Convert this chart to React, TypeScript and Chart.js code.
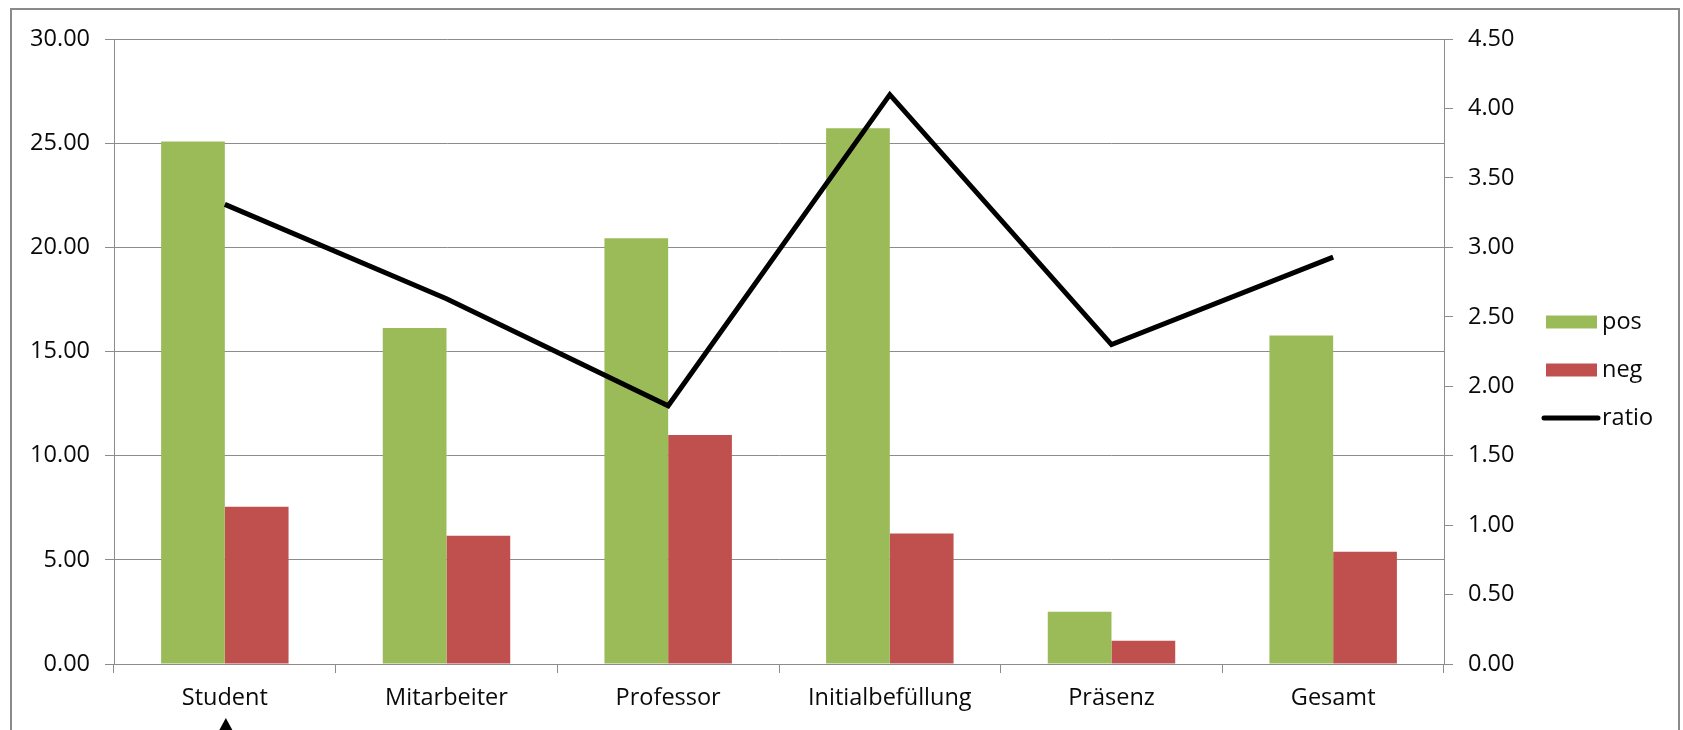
import React, { useEffect, useRef } from "react";
import { Chart, registerables } from "chart.js";

Chart.register(...registerables);

const categories = ["Student", "Mitarbeiter", "Professor", "Initialbefüllung", "Präsenz", "Gesamt"];
const posValues = [25.08, 16.13, 20.44, 25.72, 2.51, 15.77];
const negValues = [7.55, 6.16, 10.99, 6.27, 1.12, 5.39];
const ratioValues = [3.31, 2.63, 1.86, 4.1, 2.3, 2.93];
const seriesLabels = ["pos", "neg", "ratio"];
const leftAxis = { min: 0, max: 30, step: 5 };
const rightAxis = { min: 0, max: 4.5, step: 0.5 };

const GREEN = "#9BBB59";
const RED = "#C0504D";
const LINE = "#000000";
const GRID = "#8c8c8c";
const TEXT = "#0a0a0a";
const FONT_FAMILY = "'Open Sans', 'DejaVu Sans', sans-serif";
const FONT_SIZE = 23.5;

export default function App() {
  const ref = useRef<HTMLCanvasElement>(null);

  useEffect(() => {
    const canvas = ref.current!;
    const font = { family: FONT_FAMILY, size: FONT_SIZE };

    const legendPlugin = {
      id: "customLegend",
      afterDraw(chart: any) {
        const ctx = chart.ctx;
        const area = chart.chartArea;
        const x0 = area.right + 102;
        const cy = chart.height / 2;
        const gap = 48;
        const colors = [GREEN, RED, LINE];
        ctx.save();
        ctx.font = `${FONT_SIZE}px ${FONT_FAMILY}`;
        ctx.textBaseline = "middle";
        ctx.textAlign = "left";
        seriesLabels.forEach((label, i) => {
          const y = cy + (i - 1) * gap;
          if (i < 2) {
            ctx.fillStyle = colors[i];
            ctx.fillRect(x0, y - 6.5, 51, 13);
          } else {
            ctx.strokeStyle = LINE;
            ctx.lineWidth = 5;
            ctx.lineCap = "round";
            ctx.beginPath();
            ctx.moveTo(x0 - 2, y);
            ctx.lineTo(x0 + 52, y);
            ctx.stroke();
          }
          ctx.fillStyle = TEXT;
          ctx.fillText(label, x0 + 56, y);
        });
        ctx.restore();
      },
    };

    const arrowPlugin = {
      id: "arrowMark",
      afterDraw(chart: any) {
        const ctx = chart.ctx;
        const xs = chart.scales.x;
        const cx = xs.getPixelForValue(0) + 1;
        const top = chart.chartArea.bottom + 54;
        ctx.save();
        ctx.fillStyle = "#000";
        ctx.beginPath();
        ctx.moveTo(cx, top);
        ctx.lineTo(cx - 6.5, top + 12);
        ctx.lineTo(cx + 6.5, top + 12);
        ctx.closePath();
        ctx.fill();
        ctx.restore();
      },
    };

    const chart = new Chart(canvas, {
      type: "bar",
      data: {
        labels: categories,
        datasets: [
          {
            type: "line",
            label: seriesLabels[2],
            data: ratioValues,
            yAxisID: "y1",
            borderColor: LINE,
            borderWidth: 5,
            pointRadius: 0,
            tension: 0,
            fill: false,
            order: 0,
          } as any,
          {
            label: seriesLabels[0],
            data: posValues,
            backgroundColor: GREEN,
            yAxisID: "y",
            barPercentage: 1,
            categoryPercentage: 0.575,
            order: 1,
          },
          {
            label: seriesLabels[1],
            data: negValues,
            backgroundColor: RED,
            yAxisID: "y",
            barPercentage: 1,
            categoryPercentage: 0.575,
            order: 1,
          },
        ],
      },
      options: {
        responsive: false,
        animation: false,
        devicePixelRatio: 1,
        layout: { padding: { top: 28, left: 0, right: 0, bottom: 0 } },
        plugins: {
          legend: { display: false },
          tooltip: { enabled: false },
        },
        scales: {
          x: {
            type: "category",
            offset: true,
            grid: {
              offset: true,
              drawOnChartArea: false,
              drawTicks: true,
              tickLength: 9,
              color: GRID,
              lineWidth: 1,
            },
            border: { display: true, color: GRID, width: 1 },
            ticks: { font, color: TEXT, padding: 11, maxRotation: 0, autoSkip: false },
            afterFit(s: any) {
              s.height = 66;
            },
          },
          y: {
            position: "left",
            min: leftAxis.min,
            max: leftAxis.max,
            ticks: {
              stepSize: leftAxis.step,
              font,
              color: TEXT,
              padding: 15,
              callback: (v: any) => Number(v).toFixed(2),
            },
            grid: { color: GRID, lineWidth: 1, tickLength: 9 },
            border: { display: true, color: GRID, width: 1 },
            afterFit(s: any) {
              s.width = 102;
            },
          },
          y1: {
            position: "right",
            min: rightAxis.min,
            max: rightAxis.max,
            ticks: {
              stepSize: rightAxis.step,
              font,
              color: TEXT,
              padding: 15,
              callback: (v: any) => Number(v).toFixed(2),
            },
            grid: { drawOnChartArea: false, color: GRID, lineWidth: 1, tickLength: 9 },
            border: { display: true, color: GRID, width: 1 },
            afterFit(s: any) {
              s.width = 234;
            },
          },
        },
      } as any,
      plugins: [legendPlugin, arrowPlugin],
    });
    return () => chart.destroy();
  }, []);

  return (
    <div
      style={{
        position: "fixed",
        left: 0,
        top: 0,
        width: 1683,
        height: 730,
        overflow: "hidden",
        background: "#fff",
      }}
    >
      <div
        style={{
          position: "absolute",
          left: 10,
          top: 8,
          width: 1666,
          height: 760,
          border: "2px solid #8a8a8a",
          boxSizing: "content-box",
        }}
      >
        <canvas
          ref={ref}
          width={1666}
          height={720}
          style={{ display: "block", width: 1666, height: 720 }}
        />
      </div>
    </div>
  );
}
